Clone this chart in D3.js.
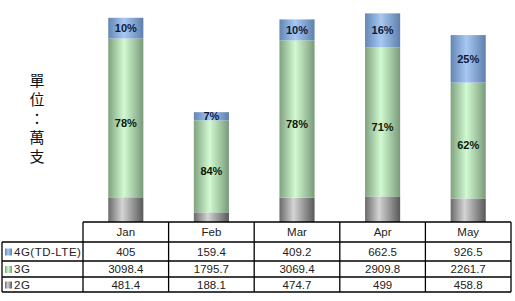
<!DOCTYPE html>
<html><head><meta charset="utf-8">
<script src="https://cdn.jsdelivr.net/npm/d3@7"></script>
<style>body{margin:0;background:#fff}svg{display:block}</style>
</head><body>
<script>
const months = ["Jan","Feb","Mar","Apr","May"];
const seriesNames = ["4G(TD-LTE)","3G","2G"];
const lte = [405,159.4,409.2,662.5,926.5];
const g3 = [3098.4,1795.7,3069.4,2909.8,2261.7];
const g2 = [481.4,188.1,474.7,499,458.8];
const valueText = {"4G(TD-LTE)":["405","159.4","409.2","662.5","926.5"],"3G":["3098.4","1795.7","3069.4","2909.8","2261.7"],"2G":["481.4","188.1","474.7","499","458.8"]};
const unitLabel = ["單","位","：","萬","支"];

const W=515,H=301;
const svg=d3.select("body").append("svg").attr("width",W).attr("height",H);
const defs=svg.append("defs");
function grad(id,stops){
  const g=defs.append("linearGradient").attr("id",id).attr("x1","0%").attr("x2","100%").attr("y1","0%").attr("y2","0%");
  stops.forEach(s=>g.append("stop").attr("offset",s[0]).attr("stop-color",s[1]));
}
grad("g4",[[0,"#6486b4"],[0.45,"#a6c8f2"],[1,"#5f80ad"]]);
grad("g3",[[0,"#7fa27f"],[0.45,"#d2fad2"],[1,"#7a9a7a"]]);
grad("g2",[[0,"#6a6a6a"],[0.4,"#d4d4d4"],[1,"#585858"]]);
const fills={"4G(TD-LTE)":"url(#g4)","3G":"url(#g3)","2G":"url(#g2)"};

const tableLeft=83, tableRight=511, legLeft=2;
const x=d3.scaleBand().domain(months).range([tableLeft,tableRight]).paddingInner(0.59).paddingOuter(0.295);
const colX=d3.scaleBand().domain(months).range([tableLeft,tableRight]);
const y=d3.scaleLinear().domain([0,4000]).range([222,17]);

const data=months.map((m,i)=>({month:m,"2G":g2[i],"3G":g3[i],"4G(TD-LTE)":lte[i]}));
const stack=d3.stack().keys(["2G","3G","4G(TD-LTE)"])(data);

const bars=svg.append("g");
stack.forEach(layer=>{
  bars.selectAll(null).data(layer).enter().append("rect")
    .attr("x",d=>x(d.data.month)).attr("width",x.bandwidth())
    .attr("y",d=>y(d[1])).attr("height",d=>y(d[0])-y(d[1]))
    .attr("fill",fills[layer.key]);
});
// percent labels
const lab=svg.append("g").attr("font-family","'Liberation Sans',Arial,sans-serif").attr("font-weight","bold").attr("font-size","11px").attr("text-anchor","middle");
stack.forEach(layer=>{
  if(layer.key==="2G") return;
  lab.selectAll(null).data(layer).enter().append("text")
    .attr("x",d=>x(d.data.month)+x.bandwidth()/2)
    .attr("y",d=>(y(d[0])+y(d[1]))/2+(layer.key==="3G"?5:0))
    .attr("dy","0.36em")
    .attr("fill",layer.key==="3G"?"#0a1a0a":"#0c1a3a")
    .text(d=>{const t=d.data["2G"]+d.data["3G"]+d.data["4G(TD-LTE)"];return Math.round((d[1]-d[0])/t*100)+"%";});
});

// unit label
svg.append("g").selectAll("text").data(unitLabel).enter().append("text")
  .attr("x",37).attr("y",(d,i)=>86+i*19)
  .attr("text-anchor","middle").attr("font-family","'Noto Sans CJK TC',sans-serif").attr("font-size","15px").attr("fill","#111")
  .text(d=>d);

// table
const rowY=[222,242,261,277,292];
const t=svg.append("g").attr("font-family","'Liberation Sans',Arial,sans-serif").attr("font-size","11.5px").attr("fill","#222");
const line=(x1,y1,x2,y2)=>t.append("line").attr("x1",x1).attr("y1",y1).attr("x2",x2).attr("y2",y2).attr("stroke","#000").attr("stroke-width",1.3);
line(tableLeft,rowY[0],tableRight,rowY[0]);
for(let r=1;r<rowY.length;r++) line(legLeft,rowY[r],tableRight,rowY[r]);
line(legLeft,rowY[1],legLeft,rowY[4]);
months.forEach(m=>line(colX(m),rowY[0],colX(m),rowY[4]));
line(tableRight,rowY[0],tableRight,rowY[4]);

t.selectAll(".hd").data(months).enter().append("text")
  .attr("x",d=>colX(d)+colX.bandwidth()/2).attr("y",(rowY[0]+rowY[1])/2).attr("dy","0.36em")
  .attr("text-anchor","middle").text(d=>d);
seriesNames.forEach((s,r)=>{
  const cy=(rowY[r+1]+rowY[r+2])/2;
  t.append("rect").attr("x",5).attr("y",cy-3).attr("width",7).attr("height",7).attr("fill",fills[s]);
  t.append("text").attr("x",14).attr("y",cy).attr("dy","0.36em").attr("letter-spacing","0.5px").text(s);
  t.selectAll(null).data(valueText[s]).enter().append("text")
    .attr("x",(d,i)=>colX(months[i])+colX.bandwidth()/2).attr("y",cy).attr("dy","0.36em")
    .attr("text-anchor","middle").text(d=>d);
});
</script>
</body></html>
